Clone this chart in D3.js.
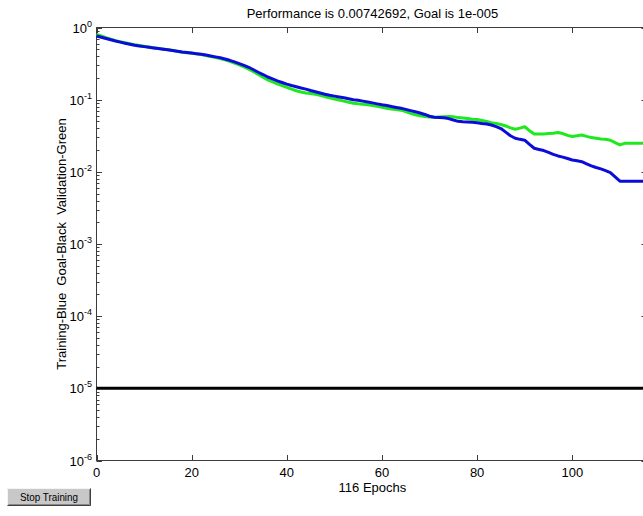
<!DOCTYPE html>
<html>
<head>
<meta charset="utf-8">
<script src="https://cdn.jsdelivr.net/npm/d3@7"></script>
<style>
  html, body { margin: 0; padding: 0; background: #fff; overflow: hidden; }
  svg { display: block; }
</style>
</head>
<body>
<svg id="chart" width="643" height="516"></svg>
<script>
// ---- data ----
const titleText = "Performance is 0.00742692, Goal is 1e-005";
const xLabelText = "116 Epochs";
const yLabelText = "Training-Blue  Goal-Black  Validation-Green";
const buttonText = "Stop Training";
const epochCount = 116;
const goal = 1e-5;
const xTicks = [0, 20, 40, 60, 80, 100];
const yTickExponents = [0, -1, -2, -3, -4, -5, -6];

const training = [
  0.762, 0.733, 0.705, 0.676, 0.649, 0.627, 0.605, 0.586, 0.569, 0.556,
  0.543, 0.531, 0.520, 0.510, 0.501, 0.490, 0.479, 0.468, 0.457, 0.449,
  0.442, 0.434, 0.427, 0.415, 0.403, 0.392, 0.380, 0.366, 0.351, 0.334,
  0.316, 0.299, 0.281, 0.260, 0.240, 0.223, 0.206, 0.194, 0.182, 0.173,
  0.164, 0.157, 0.151, 0.145, 0.140, 0.134, 0.129, 0.124, 0.119, 0.115,
  0.112, 0.109, 0.106, 0.103, 0.100, 0.0982, 0.0955, 0.0929, 0.0902, 0.0875,
  0.0851, 0.0832, 0.0804, 0.0780, 0.0759, 0.0733, 0.0705, 0.0679, 0.0653, 0.0624,
  0.0589, 0.0570, 0.0566, 0.0560, 0.0547, 0.0522, 0.0501, 0.0495, 0.0491, 0.0486,
  0.0479, 0.0468, 0.0460, 0.0445, 0.0423, 0.0398, 0.0355, 0.0316, 0.0292, 0.0282,
  0.0274, 0.0240, 0.0212, 0.0204, 0.0197, 0.0186, 0.0175, 0.0166, 0.0160, 0.0153,
  0.0146, 0.0142, 0.0138, 0.0129, 0.0121, 0.0115, 0.0110, 0.0104, 0.00977, 0.00851,
  0.00742692, 0.00742692, 0.00742692, 0.00742692, 0.00742692, 0.00742692, 0.00742692
];

const validation = [
  0.805, 0.762, 0.721, 0.687, 0.658, 0.634, 0.614, 0.594, 0.578, 0.562,
  0.548, 0.536, 0.524, 0.513, 0.502, 0.491, 0.479, 0.467, 0.455, 0.447,
  0.439, 0.431, 0.422, 0.409, 0.396, 0.384, 0.372, 0.356, 0.340, 0.322,
  0.304, 0.285, 0.265, 0.244, 0.224, 0.205, 0.188, 0.176, 0.166, 0.157,
  0.148, 0.140, 0.133, 0.128, 0.124, 0.122, 0.119, 0.115, 0.110, 0.106,
  0.102, 0.0989, 0.0955, 0.0923, 0.0891, 0.0877, 0.0867, 0.0851, 0.0832, 0.0809,
  0.0785, 0.0762, 0.0745, 0.0729, 0.0716, 0.0684, 0.0646, 0.0617, 0.0600, 0.0586,
  0.0573, 0.0570, 0.0575, 0.0581, 0.0586, 0.0578, 0.0564, 0.0556, 0.0547, 0.0537,
  0.0531, 0.0515, 0.0497, 0.0481, 0.0468, 0.0452, 0.0432, 0.0407, 0.0389, 0.0403,
  0.0421, 0.0372, 0.0335, 0.0334, 0.0335, 0.0339, 0.0342, 0.0351, 0.0339, 0.0320,
  0.0308, 0.0316, 0.0324, 0.0310, 0.0298, 0.0292, 0.0286, 0.0282, 0.0274, 0.0254,
  0.0236, 0.0248, 0.0248, 0.0248, 0.0248, 0.0248, 0.0248
];

// ---- layout ----
const plotLeft = 96.5, plotTop = 27.5, plotBottom = 460.5;
const pxPerEpoch = 4.758;
const plotRight = plotLeft + epochCount * pxPerEpoch;
const font = "'Liberation Sans', Arial, sans-serif";
const axisColor = "#3c3c3c";

const svg = d3.select("#chart");

const x = d3.scaleLinear().domain([0, epochCount]).range([plotLeft, plotRight]);
const y = d3.scaleLog().domain([1e-6, 1]).range([plotBottom, plotTop]);

// minor log ticks
const minorVals = [];
for (let e = -6; e < 0; e++) for (let m = 2; m <= 9; m++) minorVals.push(m * Math.pow(10, e));
const majorVals = yTickExponents.map(e => Math.pow(10, e));

const gTicks = svg.append("g").attr("stroke", axisColor).attr("stroke-width", 1);
function hTicks(cls, vals, x1, x2) {
  gTicks.selectAll("line." + cls).data(vals).join("line").attr("class", cls)
    .attr("x1", x1).attr("x2", x2)
    .attr("y1", d => Math.round(y(d)) + 0.5).attr("y2", d => Math.round(y(d)) + 0.5);
}
hTicks("ymin", minorVals, plotLeft, plotLeft + 3);
hTicks("ymaj", majorVals, plotLeft, plotLeft + 5.5);
hTicks("yminr", minorVals, plotRight, plotRight - 3);
hTicks("ymajr", majorVals, plotRight, plotRight - 7);
gTicks.selectAll("line.xb").data(xTicks).join("line").attr("class", "xb")
  .attr("x1", d => Math.round(x(d)) + 0.5).attr("x2", d => Math.round(x(d)) + 0.5)
  .attr("y1", plotBottom).attr("y2", plotBottom - 5.5);
gTicks.selectAll("line.xt").data(xTicks).join("line").attr("class", "xt")
  .attr("x1", d => Math.round(x(d)) + 0.5).attr("x2", d => Math.round(x(d)) + 0.5)
  .attr("y1", plotTop).attr("y2", plotTop + 5.5);

// axes box
svg.append("rect").attr("x", plotLeft).attr("y", plotTop)
  .attr("width", plotRight - plotLeft).attr("height", plotBottom - plotTop)
  .attr("fill", "none").attr("stroke", axisColor).attr("stroke-width", 1);

// goal line
svg.append("line")
  .attr("x1", x(0)).attr("x2", x(epochCount))
  .attr("y1", y(goal)).attr("y2", y(goal))
  .attr("stroke", "#000").attr("stroke-width", 3);

const line = d3.line().x((d, i) => x(i)).y(d => y(d));

svg.append("path").datum(validation).attr("d", line)
  .attr("fill", "none").attr("stroke", "#1ee81e").attr("stroke-width", 3)
  .attr("stroke-linejoin", "round");
svg.append("path").datum(training).attr("d", line)
  .attr("fill", "none").attr("stroke", "#0c0cd8").attr("stroke-width", 3)
  .attr("stroke-linejoin", "round");

// x tick labels
svg.append("g").selectAll("text").data(xTicks).join("text")
  .attr("x", d => x(d)).attr("y", plotBottom + 16)
  .attr("text-anchor", "middle")
  .attr("font-family", font).attr("font-size", 13).attr("fill", "#000")
  .text(d => d);

// y tick labels 10^e
const yl = svg.append("g").selectAll("text").data(yTickExponents).join("text")
  .attr("x", 92).attr("y", d => y(Math.pow(10, d)) + 5)
  .attr("text-anchor", "end")
  .attr("font-family", font).attr("font-size", 13).attr("fill", "#000");
yl.append("tspan").text("10");
yl.append("tspan").attr("font-size", 9).attr("dy", -6).text(d => d === 0 ? "0" : "-" + Math.abs(d));

// title
svg.append("text").attr("x", (plotLeft + plotRight) / 2).attr("y", 18)
  .attr("text-anchor", "middle").attr("font-family", font).attr("font-size", 13)
  .attr("fill", "#000").text(titleText);

// x label
svg.append("text").attr("x", (plotLeft + plotRight) / 2).attr("y", 492)
  .attr("text-anchor", "middle").attr("font-family", font).attr("font-size", 13)
  .attr("fill", "#000").text(xLabelText);

// y label
svg.append("text")
  .attr("transform", `translate(66,${(plotTop + plotBottom) / 2}) rotate(-90)`)
  .attr("text-anchor", "middle").attr("font-family", font).attr("font-size", 13)
  .attr("fill", "#000").style("white-space", "pre")
  .text(yLabelText);

// Stop Training button
const btn = svg.append("g").attr("transform", "translate(7,488)");
btn.append("rect").attr("width", 84).attr("height", 18).attr("fill", "#c8c8c8");
btn.append("path").attr("d", "M0.5,17.5 V0.5 H83.5").attr("fill", "none").attr("stroke", "#f4f4f4");
btn.append("path").attr("d", "M0.5,17.5 H83.5 V0.5").attr("fill", "none").attr("stroke", "#404040");
btn.append("path").attr("d", "M1.5,16.5 H82.5 V1.5").attr("fill", "none").attr("stroke", "#888");
btn.append("text").attr("x", 42).attr("y", 13).attr("text-anchor", "middle")
  .attr("font-family", font)
  .attr("font-size", 11).attr("textLength", 58).attr("lengthAdjust", "spacingAndGlyphs")
  .attr("fill", "#000").text(buttonText);
</script>
</body>
</html>
